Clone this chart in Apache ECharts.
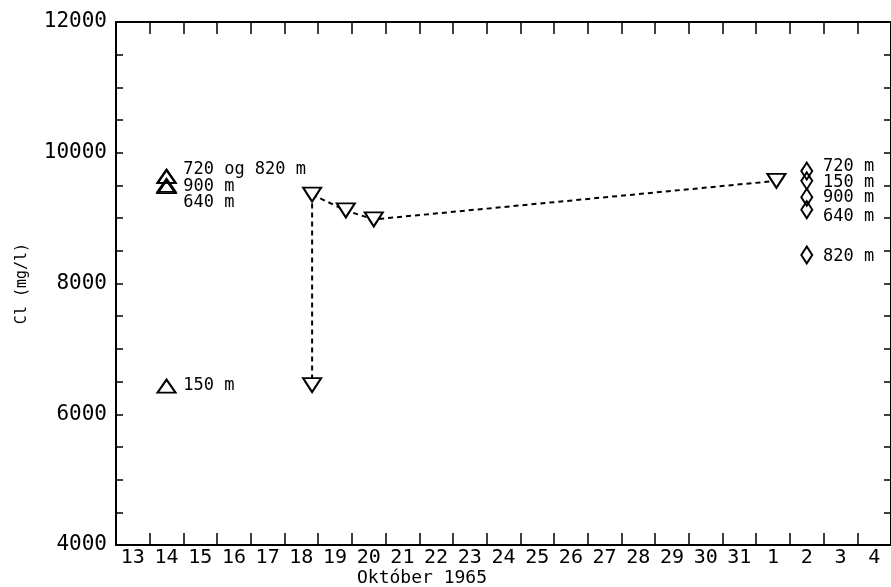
<!DOCTYPE html>
<html><head><meta charset="utf-8">
<script src="https://cdn.jsdelivr.net/npm/echarts@6/dist/echarts.min.js"></script>
<style>html,body{margin:0;padding:0;background:#fff}#c{width:891px;height:587px}</style>
</head><body><div id="c"></div>
<script>
// Tick labels (days: Oct 13..31, Nov 1..4)
const dayLabels = ['13','14','15','16','17','18','19','20','21','22','23','24','25','26','27','28','29','30','31','1','2','3','4'];
// Positions in days since Oct (Nov 1 = 32)
const upTriX = [14, 14, 14, 14, 14];
const upTriY = [9640, 9640, 9500, 9480, 6430];
const downTriX = [18.32, 18.32, 19.32, 20.15, 32.1];
const downTriY = [9360, 6447, 9117, 8980, 9570];
const diamondX = [33, 33, 33, 33, 33];
const diamondY = [9720, 9570, 9320, 9130, 8436];
// dashed connections (indices into down-triangle arrays)
const dashedMain = [0, 2, 3, 4];
const dashedDrop = [0, 1];
// depth annotations
const labelX = [14.48, 14.48, 14.48, 14.48, 33.47, 33.47, 33.47, 33.47, 33.47];
const labelY = [9736, 9476, 9239, 6432, 9782, 9537, 9308, 9017, 8405];
const labelText = ['720 og 820 m', '900 m', '640 m', '150 m', '720 m', '150 m', '900 m', '640 m', '820 m'];

const FONT = 'DejaVu Sans Mono';
const chart = echarts.init(document.getElementById('c'), null, {renderer: 'canvas'});
const pairs = (xs, ys) => xs.map((x, i) => [x, ys[i]]);
const hollow = {color: '#fff', borderColor: '#000', borderWidth: 2, opacity: 1};
const clear = {color: 'rgba(255,255,255,0)', borderColor: '#000', borderWidth: 2, opacity: 1};
chart.setOption({
  animation: false,
  backgroundColor: '#fff',
  grid: {left: 116, top: 22, width: 779, bottom: 42, containLabel: false},
  xAxis: [
    {type: 'category', data: dayLabels, position: 'bottom', boundaryGap: true,
     axisLine: {lineStyle: {color: '#000', width: 2}},
     axisTick: {show: true, inside: true, length: 12, lineStyle: {color: '#000', width: 1.5}},
     axisLabel: {color: '#000', fontFamily: FONT, fontSize: 20, margin: 3},
     splitLine: {show: false}},
    {type: 'value', min: 0, max: dayLabels.length, interval: 1, position: 'top',
     axisLine: {show: true, onZero: false, lineStyle: {color: '#000', width: 2}},
     axisTick: {show: true, inside: true, length: 12, lineStyle: {color: '#000', width: 1.5}},
     axisLabel: {show: false}, splitLine: {show: false}},
    {type: 'value', min: 12.5, max: 35.5, show: false, position: 'bottom', splitLine: {show: false}}
  ],
  yAxis: [
    {type: 'value', min: 4000, max: 12000, interval: 500, position: 'left',
     axisLine: {show: true, lineStyle: {color: '#000', width: 2}},
     axisTick: {show: true, inside: true, length: 7, lineStyle: {color: '#000', width: 1.5}},
     axisLabel: {color: '#000', fontFamily: FONT, fontSize: 21, margin: 9,
       formatter: v => (v % 2000 === 0 ? String(v) : '')},
     splitLine: {show: false},
     name: 'Cl (mg/l)', nameLocation: 'middle', nameGap: 86, nameRotate: 90,
     nameTextStyle: {color: '#000', fontFamily: FONT, fontSize: 15}},
    {type: 'value', min: 4000, max: 12000, interval: 500, position: 'right',
     axisLine: {show: true, lineStyle: {color: '#000', width: 2}},
     axisTick: {show: true, inside: true, length: 7, lineStyle: {color: '#000', width: 1.5}},
     axisLabel: {show: false}, splitLine: {show: false}}
  ],
  graphic: [{type: 'text', left: 357, top: 569,
    style: {text: 'Október 1965', fill: '#000', font: '18px "DejaVu Sans Mono"'}}],
  series: [
    {type: 'line', xAxisIndex: 2, yAxisIndex: 0, symbol: 'none', z: 1,
     data: dashedMain.map(i => [downTriX[i], downTriY[i]]),
     lineStyle: {color: '#000', width: 2, type: [5, 4]}},
    {type: 'line', xAxisIndex: 2, yAxisIndex: 0, symbol: 'none', z: 1,
     data: dashedDrop.map(i => [downTriX[i], downTriY[i]]),
     lineStyle: {color: '#000', width: 2, type: [5, 4]}},
    {type: 'scatter', xAxisIndex: 2, yAxisIndex: 0, symbol: 'triangle', symbolSize: [18, 13], z: 3,
     itemStyle: clear, data: pairs(upTriX, upTriY)},
    {type: 'scatter', xAxisIndex: 2, yAxisIndex: 0, symbol: 'triangle', symbolRotate: 180, symbolSize: [18, 14], z: 3,
     itemStyle: hollow, data: pairs(downTriX, downTriY)},
    {type: 'scatter', xAxisIndex: 2, yAxisIndex: 0, symbol: 'diamond', symbolSize: [11, 17], z: 3,
     itemStyle: clear, data: pairs(diamondX, diamondY)},
    {type: 'scatter', xAxisIndex: 2, yAxisIndex: 0, symbol: 'circle', symbolSize: 1, z: 4,
     itemStyle: {color: 'rgba(0,0,0,0)', opacity: 1},
     data: labelX.map((x, i) => ({value: [x, labelY[i]], label: {formatter: labelText[i]}})),
     label: {show: true, position: 'right', distance: 0, color: '#000', fontFamily: FONT, fontSize: 17}}
  ]
});
</script></body></html>
